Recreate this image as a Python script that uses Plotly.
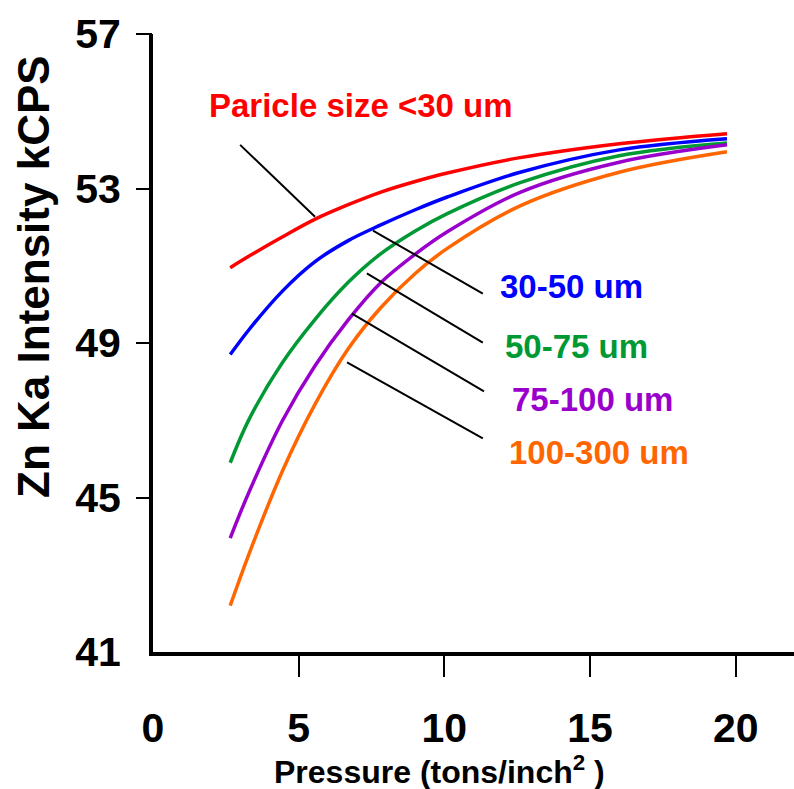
import plotly.graph_objects as go

# ---- data ----
pressure = [2.65, 3.3, 4.45, 5.55, 6.7, 7.8, 9.0, 10.1, 12.6, 16.0, 19.7]
size_lt30 = [50.95, 51.25, 51.75, 52.2, 52.58, 52.9, 53.18, 53.4, 53.8, 54.16, 54.42]
size_30_50 = [48.7, 49.35, 50.35, 51.1, 51.65, 52.05, 52.45, 52.78, 53.42, 54.0, 54.29]
size_50_75 = [45.9, 47.03, 48.5, 49.6, 50.57, 51.3, 51.9, 52.35, 53.15, 53.85, 54.18]
size_75_100 = [43.95, 45.15, 47.0, 48.4, 49.6, 50.55, 51.3, 51.88, 52.9, 53.68, 54.13]
size_100_300 = [42.2, 43.55, 45.7, 47.4, 48.85, 49.9, 50.8, 51.45, 52.55, 53.42, 53.95]

series_labels = ["Paricle size <30 um", "30-50 um", "50-75 um", "75-100 um", "100-300 um"]
series_values = [size_lt30, size_30_50, size_50_75, size_75_100, size_100_300]
series_colors = ["#FF0000", "#0000FF", "#009933", "#9900CC", "#FF6600"]

x_tick_vals = [0, 5, 10, 15, 20]
y_tick_vals = [41, 45, 49, 53, 57]

x_title = "Pressure (tons/inch<sup>2</sup> )"
y_title = "Zn Ka Intensity kCPS"

# label anchor (data coords) and leader line ends (data coords)
label_pos = [(1.85, 55.15), (11.84, 50.46), (12.01, 48.91), (12.25, 47.54), (12.15, 46.17)]
leader_start = [(2.99, 54.13), (7.55, 51.91), (7.34, 50.80), (6.83, 49.76), (6.66, 48.50)]
leader_end = [(5.56, 52.27), (11.32, 50.28), (11.32, 49.01), (11.36, 47.75), (11.32, 46.53)]

FONT = "Liberation Sans, Arial, sans-serif"

fig = go.Figure()
for name, vals, col in zip(series_labels, series_values, series_colors):
    fig.add_trace(go.Scatter(x=pressure, y=vals, mode="lines", name=name,
                             line=dict(color=col, width=3.5, shape="spline", smoothing=1.0),
                             showlegend=False))
# empty trace to host overlay axes that draw the tick marks
fig.add_trace(go.Scatter(x=[], y=[], xaxis="x2", yaxis="y2", showlegend=False))

for (lx, ly), txt, col in zip(label_pos, series_labels, series_colors):
    fig.add_annotation(x=lx, y=ly, xref="x", yref="y", text=txt, showarrow=False,
                       xanchor="left", yanchor="middle",
                       font=dict(family=FONT, size=33, color=col, weight="bold"))
for (x0, y0), (x1, y1) in zip(leader_start, leader_end):
    fig.add_shape(type="line", x0=x0, y0=y0, x1=x1, y1=y1, xref="x", yref="y",
                  line=dict(color="black", width=2))

# axis titles placed as in the reference
fig.add_annotation(x=0.4477, y=-0.191, xref="paper", yref="paper", text=x_title,
                   showarrow=False, xanchor="center", yanchor="middle",
                   font=dict(family=FONT, size=32, color="black", weight="bold"))
fig.add_annotation(x=-0.1856, y=0.607, xref="paper", yref="paper", text=y_title,
                   showarrow=False, xanchor="center", yanchor="middle", textangle=-90,
                   font=dict(family=FONT, size=44, color="black", weight="bold"))

tickfont = dict(family=FONT, size=41, color="black", weight="bold")

fig.update_layout(
    width=794, height=789,
    margin=dict(l=153, r=0, t=34, b=137),
    paper_bgcolor="white", plot_bgcolor="white",
    xaxis=dict(range=[0, 22], tickvals=x_tick_vals, ticks="outside", ticklen=24,
               tickcolor="rgba(0,0,0,0)", showgrid=False, zeroline=False,
               showline=True, linecolor="black", linewidth=4,
               tickfont=tickfont, ticklabelstandoff=13),
    yaxis=dict(range=[41, 57], tickvals=y_tick_vals, ticks="outside", ticklen=16,
               tickcolor="rgba(0,0,0,0)", showgrid=False, zeroline=False,
               showline=True, linecolor="black", linewidth=4,
               tickfont=tickfont, ticklabelstandoff=4),
    xaxis2=dict(overlaying="x", matches="x", anchor="y2", side="bottom",
                tickvals=x_tick_vals[1:], ticks="outside", ticklen=24, tickwidth=2,
                tickcolor="black", showticklabels=False, showgrid=False,
                zeroline=False, showline=False),
    yaxis2=dict(overlaying="y", matches="y", anchor="x2", side="left",
                tickvals=y_tick_vals[1:], ticks="outside", ticklen=16, tickwidth=2,
                tickcolor="black", showticklabels=False, showgrid=False,
                zeroline=False, showline=False),
)

fig.write_html("out.html")
